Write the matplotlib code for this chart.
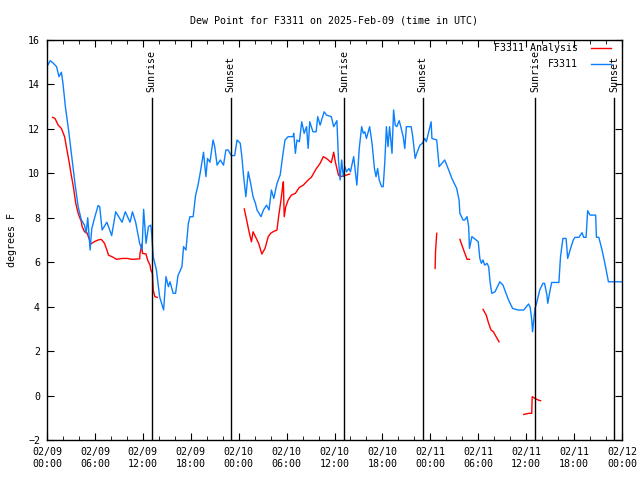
import numpy as np
import matplotlib
matplotlib.use("Agg")
import matplotlib.pyplot as plt
from matplotlib.ticker import MultipleLocator

# hours since 2025-02-09 00:00 UTC
obs_hours = [0.1, 0.4, 0.8, 1.2, 1.5, 1.8, 2.0, 2.3, 2.7, 3.1, 3.5, 3.9, 4.3, 4.7, 4.9, 5.1,
             5.4, 5.6, 6.0, 6.4, 6.6, 6.9, 7.5, 8.1, 8.6, 9.4, 9.8, 10.4, 10.7, 11.1, 11.6,
             11.9, 12.1, 12.4, 12.7, 13.0, 13.1, 13.3, 13.7, 14.1, 14.6, 14.9, 15.2, 15.4,
             15.8, 16.1, 16.4, 16.9, 17.1, 17.4, 17.7, 17.9, 18.3, 18.6, 18.9, 19.2, 19.6,
             19.9, 20.1, 20.4, 20.8, 21.0, 21.3, 21.7, 22.1, 22.4, 22.7, 22.9, 23.1, 23.5,
             23.8, 24.2, 24.4, 24.6, 24.9, 25.2, 25.5, 25.8, 26.1, 26.3, 26.8, 27.1, 27.5,
             27.8, 28.1, 28.4, 28.8, 29.2, 29.5, 29.8, 30.2, 30.8, 30.9, 31.1, 31.3, 31.6,
             31.9, 32.2, 32.5, 32.7, 32.9, 33.3, 33.7, 33.9, 34.2, 34.7, 35.0, 35.6, 35.9,
             36.3, 36.5, 36.7, 36.9, 37.1, 37.3, 37.5, 37.8, 38.0, 38.4, 38.8, 39.1, 39.4,
             39.6, 39.8, 40.0, 40.4, 40.7, 41.0, 41.2, 41.4, 41.6, 41.9, 42.1, 42.3, 42.5,
             42.7, 42.9, 43.2, 43.4, 43.6, 43.8, 44.1, 44.3, 44.6, 44.8, 45.0, 45.6, 45.8,
             46.1, 46.3, 46.7, 47.0, 47.3, 47.5, 48.1, 48.2, 48.8, 49.1, 49.8, 50.3, 50.7,
             51.3, 51.6, 51.7, 52.1, 52.3, 52.6, 52.8, 52.9, 53.2, 53.5, 54.0, 54.2, 54.4,
             54.6, 54.8, 55.1, 55.3, 55.5, 55.7, 56.1, 56.7, 57.1, 57.4, 57.8, 58.3, 59.0,
             59.7, 60.3, 60.5, 60.7, 60.8, 61.0, 61.1, 61.3, 61.7, 62.1, 62.3, 62.6, 62.7,
             63.0, 63.2, 64.1, 64.3, 64.6, 65.0, 65.2, 65.5, 65.9, 66.1, 66.6, 67.0, 67.2,
             67.5, 67.7, 68.0, 68.7, 68.8, 69.1, 69.5, 69.9, 70.3, 72.0]
obs_dewpt = [14.87, 15.07, 14.95, 14.8, 14.35, 14.55, 14.05, 13.0, 11.95, 10.75, 9.55, 8.5,
             7.9, 7.67, 7.3, 8.0, 6.55, 7.5, 8.05, 8.55, 8.5, 7.45, 7.8, 7.2, 8.27, 7.8, 8.27,
             7.8, 8.27, 7.8, 6.85, 6.55, 8.38, 6.85, 7.6, 7.67, 7.3, 6.25, 5.65, 4.45, 3.85,
             5.35, 4.9, 5.12, 4.6, 4.6, 5.4, 5.8, 6.7, 6.55, 7.75, 8.05, 8.05, 9.0, 9.45,
             10.05, 10.95, 9.85, 10.67, 10.5, 11.5, 11.2, 10.37, 10.6, 10.37, 11.05, 11.05,
             10.9, 10.8, 10.8, 11.5, 11.35, 10.75, 9.93, 8.95, 10.07, 9.55, 8.95, 8.65, 8.35,
             8.05, 8.35, 8.57, 8.35, 9.25, 8.87, 9.55, 9.93, 10.75, 11.5, 11.65, 11.65, 11.8,
             10.9, 11.5, 11.42, 12.32, 11.8, 12.1, 11.12, 12.32, 11.87, 11.87, 12.55, 12.17,
             12.77, 12.62, 12.55, 12.1, 12.37, 10.6, 9.7, 10.6, 9.85, 10.3, 10.07, 10.22,
             10.07, 10.75, 9.47, 11.12, 12.1, 11.8, 11.87, 11.57, 12.1, 11.35, 10.22, 9.85,
             10.22, 9.7, 9.4, 9.4, 10.52, 12.1, 11.2, 12.1, 10.9, 12.85, 12.17, 12.1, 12.37,
             12.1, 11.65, 11.12, 12.1, 12.1, 11.65, 10.67, 10.9, 11.27, 11.35, 11.57, 11.42,
             12.32, 11.57, 11.5, 10.3, 10.6, 10.15, 9.77, 9.32, 8.8, 8.2, 7.9, 7.9, 8.05, 7.6,
             6.62, 7.15, 7.07, 6.92, 6.17, 5.95, 6.1, 5.87, 5.95, 5.8, 5.05, 4.6, 4.67, 5.12,
             4.97, 4.67, 4.3, 3.92, 3.85, 3.85, 4.12, 3.97, 3.4, 2.87, 3.55, 3.92, 4.15, 4.75,
             5.05, 5.05, 4.52, 4.15, 4.75, 5.09, 5.09, 6.25, 7.07, 7.07, 6.17, 6.55, 7.0,
             7.12, 7.12, 7.33, 7.12, 7.12, 8.32, 8.12, 8.12, 7.12, 7.12, 6.55, 5.87, 5.12,
             5.12]

# analysis series, NaN separates gaps
ana_hours = [0.7, 1.0, 1.4, 1.8, 2.2, 2.5, 2.8, 3.0, 3.3, 3.6, 3.9, 4.3, 4.4, 4.7, 5.0, 5.3,
             5.5, 5.9, 6.4, 6.8, 7.2, 7.5, 7.7, 8.3, 8.7, 9.4, 10.1, 10.6, 11.6, 11.65, 11.9,
             11.95, 12.4, 12.6, 12.9, 13.0, 13.2, 13.3, 13.5, 13.8, np.nan,
             24.7, 25.0, 25.3, 25.6, 25.8, 26.1, 26.5, 26.9, 27.3, 27.7, 28.0, 28.3, 28.8,
             29.0, 29.3, 29.5, 29.6, 29.7, 29.9, 30.2, 30.6, 31.1, 31.6, 32.1, 32.7, 33.1,
             33.7, 34.2, 34.6, 35.0, 35.6, 35.9, 36.1, 36.5, 36.7, 37.3, 37.9, np.nan,
             48.6, 48.65, 48.8, np.nan,
             51.7, 52.1, 52.6, 52.9, np.nan,
             54.6, 55.0, 55.3, 55.6, 55.9, 56.2, 56.6, np.nan,
             59.7, 60.3, 60.7, 60.75, 61.1, 61.5, 61.8]
ana_dewpt = [12.52, 12.47, 12.17, 12.02, 11.65, 11.05, 10.45, 10.0, 9.4, 8.65, 8.2, 7.82,
             7.6, 7.37, 7.33, 7.03, 6.82, 6.92, 7.0, 7.03, 6.85, 6.55, 6.32, 6.22, 6.13,
             6.17, 6.17, 6.13, 6.15, 6.4, 6.82, 6.4, 6.37, 6.1, 5.87, 5.65, 5.5, 4.75, 4.45,
             4.42, np.nan,
             8.4, 7.9, 7.37, 6.92, 7.37, 7.15, 6.85, 6.37, 6.62, 7.15, 7.3, 7.37, 7.45, 8.05,
             8.8, 9.4, 9.62, 8.05, 8.5, 8.8, 9.02, 9.1, 9.37, 9.47, 9.7, 9.82, 10.2, 10.45,
             10.75, 10.67, 10.48, 10.95, 10.52, 9.92, 9.85, 9.9, 9.97, np.nan,
             5.72, 6.47, 7.3, np.nan,
             7.03, 6.62, 6.13, 6.13, np.nan,
             3.88, 3.62, 3.25, 2.95, 2.87, 2.67, 2.42, np.nan,
             -0.85, -0.8, -0.8, -0.05, -0.13, -0.2, -0.23]

sunrise = [13.1, 37.2, 61.1]
sunset = [23.0, 47.05, 71.0]

tick_hours = list(range(0, 73, 6))
tick_labels = ["02/09\n00:00", "02/09\n06:00", "02/09\n12:00", "02/09\n18:00",
               "02/10\n00:00", "02/10\n06:00", "02/10\n12:00", "02/10\n18:00",
               "02/11\n00:00", "02/11\n06:00", "02/11\n12:00", "02/11\n18:00",
               "02/12\n00:00"]

FS = 7.2
plt.rcParams['font.family'] = ['DejaVu Sans Mono']
plt.rcParams['font.size'] = FS

fig = plt.figure(figsize=(6.4, 4.8), dpi=100)
ax = fig.add_axes([47/640, 40/480, 575/640, 400/480])

ax.plot(ana_hours, ana_dewpt, color='#ff0000', lw=1, label='F3311 Analysis')
ax.plot(obs_hours, obs_dewpt, color='#0a80ff', lw=1, label='F3311')

for h in sunrise:
    ax.plot([h, h], [-2, 13.4], color='black', lw=1)
    ax.text(h, 13.65, 'Sunrise', rotation=90, ha='center', va='bottom', fontsize=FS)
for h in sunset:
    ax.plot([h, h], [-2, 13.4], color='black', lw=1)
    ax.text(h, 13.65, 'Sunset', rotation=90, ha='center', va='bottom', fontsize=FS)

ax.set_xlim(0, 72)
ax.set_ylim(-2, 16)
ax.set_xticks(tick_hours)
ax.set_xticklabels(tick_labels, linespacing=1.3)
ax.xaxis.set_minor_locator(MultipleLocator(2))
ax.yaxis.set_major_locator(MultipleLocator(2))
ax.tick_params(which='both', direction='in', top=True, right=True, labelsize=FS)
ax.tick_params(which='major', length=5, pad=5)
ax.tick_params(which='minor', length=3)
for s in ax.spines.values():
    s.set_linewidth(1)

ax.set_ylabel('degrees F', fontsize=FS, labelpad=8)
ax.set_title('Dew Point for F3311 on 2025-Feb-09 (time in UTC)', fontsize=FS, pad=12)
ax.legend(loc='upper right', bbox_to_anchor=(611/640, 1 - 43/480),
          bbox_transform=fig.transFigure, frameon=False, markerfirst=False,
          fontsize=FS, handlelength=2.0, handletextpad=1.3, borderpad=0,
          borderaxespad=0, labelspacing=0.6)

fig.savefig('out.png', dpi=100)
